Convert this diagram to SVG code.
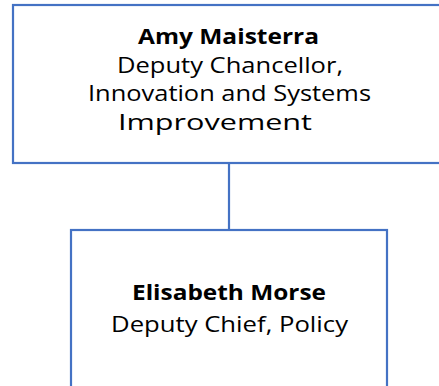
<svg xmlns="http://www.w3.org/2000/svg" width="439" height="386" viewBox="0 0 439 386">
<style>
.box{fill:#fff;stroke:#4472C4;stroke-width:2.2}
.t{font-family:"Open Sans","Liberation Sans",sans-serif;font-size:21px;fill:#000;text-anchor:middle}
.b{font-weight:bold}
.c{stroke:#4472C4;stroke-width:2.2;fill:none}
</style>
<rect width="439" height="386" fill="#fff"/>
<g id="connectors">
<line class="c" x1="229" y1="163" x2="229" y2="230"/>
</g>
<g id="amy">
<rect class="box" x="13" y="5" width="440" height="158"/>
<text class="t b" x="228.5" y="44" textLength="181" lengthAdjust="spacingAndGlyphs">Amy Maisterra</text>
<text class="t" x="230" y="72.5" textLength="226" lengthAdjust="spacingAndGlyphs">Deputy Chancellor,</text>
<text class="t" x="229.5" y="101" textLength="283" lengthAdjust="spacingAndGlyphs">Innovation and Systems</text>
<text class="t" x="215" y="130" textLength="194" lengthAdjust="spacingAndGlyphs">Improvement</text>
</g>
<g id="elisabeth">
<rect class="box" x="71" y="230" width="316" height="170"/>
<text class="t b" x="229" y="300" textLength="194" lengthAdjust="spacingAndGlyphs">Elisabeth Morse</text>
<text class="t" x="229.5" y="332" textLength="237" lengthAdjust="spacingAndGlyphs">Deputy Chief, Policy</text>
</g>
</svg>
